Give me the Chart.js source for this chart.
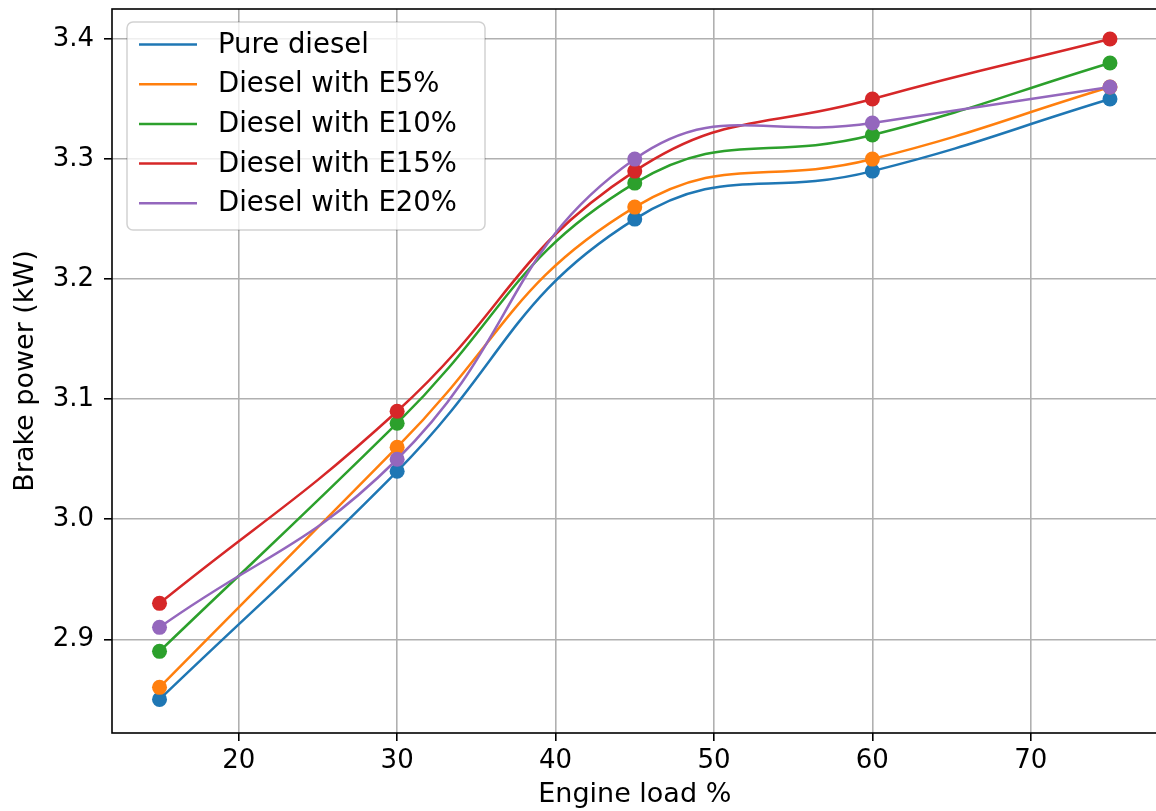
<!DOCTYPE html>
<html>
<head>
<meta charset="UTF-8">
<title>Brake power vs engine load</title>
<script src="https://cdn.jsdelivr.net/npm/chart.js@4.4.0/dist/chart.umd.min.js"></script>
<style>
    html, body { margin: 0; padding: 0; background: #fff; overflow: hidden; }
</style>
</head>
<body>
<canvas id="grafica" width="1165" height="811"></canvas>
<script>
    // values
    const loads = [15, 30, 45, 60, 75];
    const pureDiesel = [2.85, 3.04, 3.25, 3.29, 3.35];
    const dieselE5 = [2.86, 3.06, 3.26, 3.30, 3.36];
    const dieselE10 = [2.89, 3.08, 3.28, 3.32, 3.38];
    const dieselE15 = [2.93, 3.09, 3.29, 3.35, 3.40];
    const dieselE20 = [2.91, 3.05, 3.30, 3.33, 3.36];

    const labels = ['Pure diesel', 'Diesel with E5%', 'Diesel with E10%', 'Diesel with E15%', 'Diesel with E20%'];
    const colores = ['#1f77b4', '#ff7f0e', '#2ca02c', '#d62728', '#9467bd'];
    const series = [pureDiesel, dieselE5, dieselE10, dieselE15, dieselE20];

    const fuente = {family: "'DejaVu Sans', sans-serif", size: 26};
    const fuenteTitulo = {family: "'DejaVu Sans', sans-serif", size: 27};

    const datasets = series.map((valores, i) => ({
        label: labels[i],
        data: loads.map((x, j) => ({x: x, y: valores[j]})),
        borderColor: colores[i],
        backgroundColor: colores[i],
        borderWidth: 2.5,
        pointRadius: 7.5,
        pointBorderWidth: 0,
        pointHoverRadius: 7.5,
        tension: 0.45,
        order: series.length - i
    }));

    // frame around the plot area + legend box inside it (top left)
    const marcoYLeyenda = {
        id: 'marcoYLeyenda',
        afterDatasetsDraw(chart) {
            const ctx = chart.ctx;
            const a = chart.chartArea;
            ctx.save();
            ctx.strokeStyle = '#000';
            ctx.lineWidth = 1.6;
            ctx.strokeRect(a.left, a.top, a.right - a.left, a.bottom - a.top);

            const x0 = 127, y0 = 22, w = 358, h = 208, r = 6;
            ctx.beginPath();
            ctx.roundRect(x0, y0, w, h, r);
            ctx.fillStyle = 'rgba(255,255,255,0.8)';
            ctx.fill();
            ctx.strokeStyle = 'rgba(0,0,0,0.18)';
            ctx.lineWidth = 1.5;
            ctx.stroke();

            ctx.font = "27.5px 'DejaVu Sans', sans-serif";
            ctx.textBaseline = 'middle';
            ctx.fillStyle = '#000';
            chart.data.datasets.forEach((ds, i) => {
                const y = 44.5 + i * 39.7;
                ctx.beginPath();
                ctx.moveTo(139, y);
                ctx.lineTo(197, y);
                ctx.strokeStyle = ds.borderColor;
                ctx.lineWidth = 2.5;
                ctx.stroke();
                ctx.fillText(ds.label, 218, y + 1);
            });
            ctx.restore();
        }
    };

    const sinRelleno = (s) => { s.paddingTop = 0; s.paddingBottom = 0; s.paddingLeft = 0; s.paddingRight = 0; };

    const ctx = document.getElementById('grafica').getContext('2d');
    new Chart(ctx, {
        type: 'line',
        data: {datasets: datasets},
        options: {
            responsive: false,
            animation: false,
            maintainAspectRatio: false,
            layout: {padding: {top: 9, right: 2, left: 0, bottom: 0}},
            scales: {
                x: {
                    type: 'linear',
                    min: 12,
                    max: 78,
                    afterFit: (s) => { s.height = 78; sinRelleno(s); },
                    ticks: {stepSize: 10, includeBounds: false, color: '#000', font: fuente, padding: 5,
                        callback: (v) => v.toString()},
                    grid: {color: '#b0b0b0', lineWidth: 1.6, tickColor: '#000', tickLength: 8, tickWidth: 1.6},
                    border: {display: false},
                    title: {display: true, text: 'Engine load %', color: '#000', font: fuenteTitulo, padding: {top: 0, bottom: 0}}
                },
                y: {
                    min: 2.822,
                    max: 3.425,
                    afterFit: (s) => { s.width = 112; sinRelleno(s); },
                    ticks: {stepSize: 0.1, includeBounds: false, color: '#000', font: fuente, padding: 10,
                        callback: (v) => v.toFixed(1)},
                    grid: {color: '#b0b0b0', lineWidth: 1.6, tickColor: '#000', tickLength: 8, tickWidth: 1.6},
                    border: {display: false},
                    title: {display: true, text: 'Brake power (kW)', color: '#000', font: fuenteTitulo, padding: {top: 10, bottom: 0}}
                }
            },
            plugins: {
                legend: {display: false},
                tooltip: {enabled: false}
            }
        },
        plugins: [marcoYLeyenda]
    });
</script>
</body>
</html>
